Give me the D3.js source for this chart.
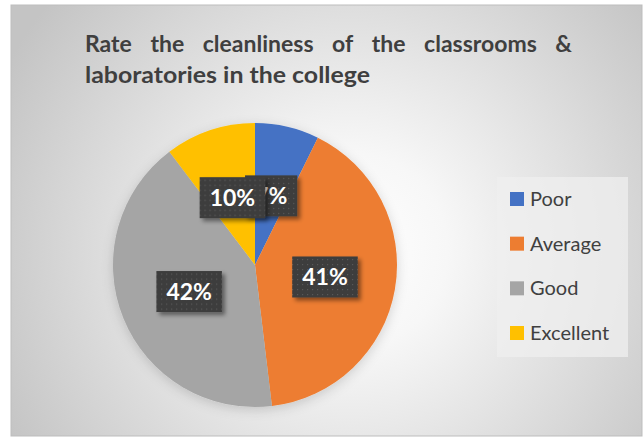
<!DOCTYPE html>
<html>
<head>
<meta charset="utf-8">
<script src="https://cdn.jsdelivr.net/npm/d3@7"></script>
<style>
  body { margin: 0; background: #fff; }
  svg { display: block; font-family: Lato, "Open Sans", sans-serif; }
</style>
</head>
<body>
<svg width="644" height="438"></svg>
<script>
var categories = ["Poor", "Average", "Good", "Excellent"];
var values = [7.3, 40.8, 41.6, 10.3];
var labels = ["7%", "41%", "42%", "10%"];
var colors = ["#4472C4", "#ED7D31", "#A5A5A5", "#FFC000"];
var titleLines = ["Rate the cleanliness of the classrooms &", "laboratories in the college"];

var svg = d3.select("svg"),
    width = +svg.attr("width"),
    height = +svg.attr("height"),
    cx = 255, cy = 265,
    radius = 142;

var defs = svg.append("defs");

var bg = defs.append("radialGradient")
    .attr("id", "bg")
    .attr("gradientUnits", "userSpaceOnUse")
    .attr("cx", 350).attr("cy", 250).attr("r", 390);
bg.append("stop").attr("offset", "0%").attr("stop-color", "#ffffff");
bg.append("stop").attr("offset", "25%").attr("stop-color", "#f7f7f7");
bg.append("stop").attr("offset", "100%").attr("stop-color", "#c4c4c4");

var dots = defs.append("pattern")
    .attr("id", "dots")
    .attr("patternUnits", "userSpaceOnUse")
    .attr("width", 5).attr("height", 5);
dots.append("rect").attr("width", 5).attr("height", 5).attr("fill", "#3d3d3d");
dots.append("rect").attr("x", 2).attr("y", 2).attr("width", 1.2).attr("height", 1.2).attr("fill", "#5a5a5a");

var pieShadow = defs.append("filter").attr("id", "pieShadow")
    .attr("x", "-20%").attr("y", "-20%").attr("width", "140%").attr("height", "140%");
pieShadow.append("feDropShadow")
    .attr("dx", 0).attr("dy", 3).attr("stdDeviation", 6)
    .attr("flood-color", "#000").attr("flood-opacity", 0.16);

var boxShadow = defs.append("filter").attr("id", "boxShadow")
    .attr("x", "-20%").attr("y", "-20%").attr("width", "150%").attr("height", "160%");
boxShadow.append("feDropShadow")
    .attr("dx", 3).attr("dy", 3).attr("stdDeviation", 2)
    .attr("flood-color", "#000").attr("flood-opacity", 0.45);

// chart area
svg.append("rect")
    .attr("x", 11).attr("y", 5)
    .attr("width", 631).attr("height", 431)
    .attr("fill", "url(#bg)")
    .attr("stroke", "#bdbdbd")
    .attr("stroke-width", 1);

// title, justified first line
var title = svg.append("g")
    .attr("fill", "#3f3f3f")
    .style("font-weight", "bold")
    .style("font-size", "23px");

var words = titleLines[0].split(" ");
var tmp = title.selectAll("text.w")
    .data(words)
  .enter().append("text")
    .attr("class", "w")
    .attr("y", 52)
    .text(function(d) { return d; });
var widths = [];
tmp.each(function() { widths.push(this.getComputedTextLength()); });
var left = 85, right = 572;
var gap = (right - left - d3.sum(widths)) / (words.length - 1);
var xpos = left;
tmp.attr("x", function(d, i) {
  var x = xpos;
  xpos += widths[i] + gap;
  return x;
});

title.append("text")
    .attr("x", 85)
    .attr("y", 83)
    .attr("textLength", 285)
    .attr("lengthAdjust", "spacingAndGlyphs")
    .text(titleLines[1]);

// pie
var pie = d3.pie().sort(null).value(function(d) { return d; });
var arc = d3.arc().innerRadius(0).outerRadius(radius);
var labelArc = d3.arc().innerRadius(radius * 0.5).outerRadius(radius * 0.5);
var arcs = pie(values);

var g = svg.append("g")
    .attr("transform", "translate(" + cx + "," + cy + ")");

g.append("g")
    .attr("filter", "url(#pieShadow)")
  .selectAll("path")
    .data(arcs)
  .enter().append("path")
    .attr("d", arc)
    .attr("fill", function(d, i) { return colors[i]; });

var label = g.selectAll("g.label")
    .data(arcs)
  .enter().append("g")
    .attr("class", "label")
    .attr("transform", function(d) { return "translate(" + labelArc.centroid(d) + ")"; });

label.append("rect")
    .attr("fill", "url(#dots)")
    .attr("filter", "url(#boxShadow)");

label.append("text")
    .attr("text-anchor", "middle")
    .attr("dy", "0.36em")
    .attr("fill", "#fff")
    .style("font-weight", "bold")
    .style("font-size", "23px")
    .text(function(d, i) { return labels[i]; });

label.each(function() {
  var gg = d3.select(this);
  var w = gg.select("text").node().getComputedTextLength() + 20;
  gg.select("rect")
      .attr("x", -w / 2).attr("y", -20.5)
      .attr("width", w).attr("height", 41);
});

// legend
var legend = svg.append("g");
legend.append("rect")
    .attr("x", 497).attr("y", 177)
    .attr("width", 131).attr("height", 180)
    .attr("fill", "#efefef")
    .attr("fill-opacity", 0.75);

var ly = d3.scalePoint()
    .domain(categories)
    .range([199, 333]);

var item = legend.selectAll("g.item")
    .data(categories)
  .enter().append("g")
    .attr("class", "item")
    .attr("transform", function(d) { return "translate(510," + ly(d) + ")"; });

item.append("rect")
    .attr("x", 0).attr("y", -7)
    .attr("width", 14).attr("height", 14)
    .attr("fill", function(d, i) { return colors[i]; });

item.append("text")
    .attr("x", 20)
    .attr("y", 7)
    .attr("fill", "#404040")
    .style("font-size", "20px")
    .text(function(d) { return d; });
</script>
</body>
</html>
